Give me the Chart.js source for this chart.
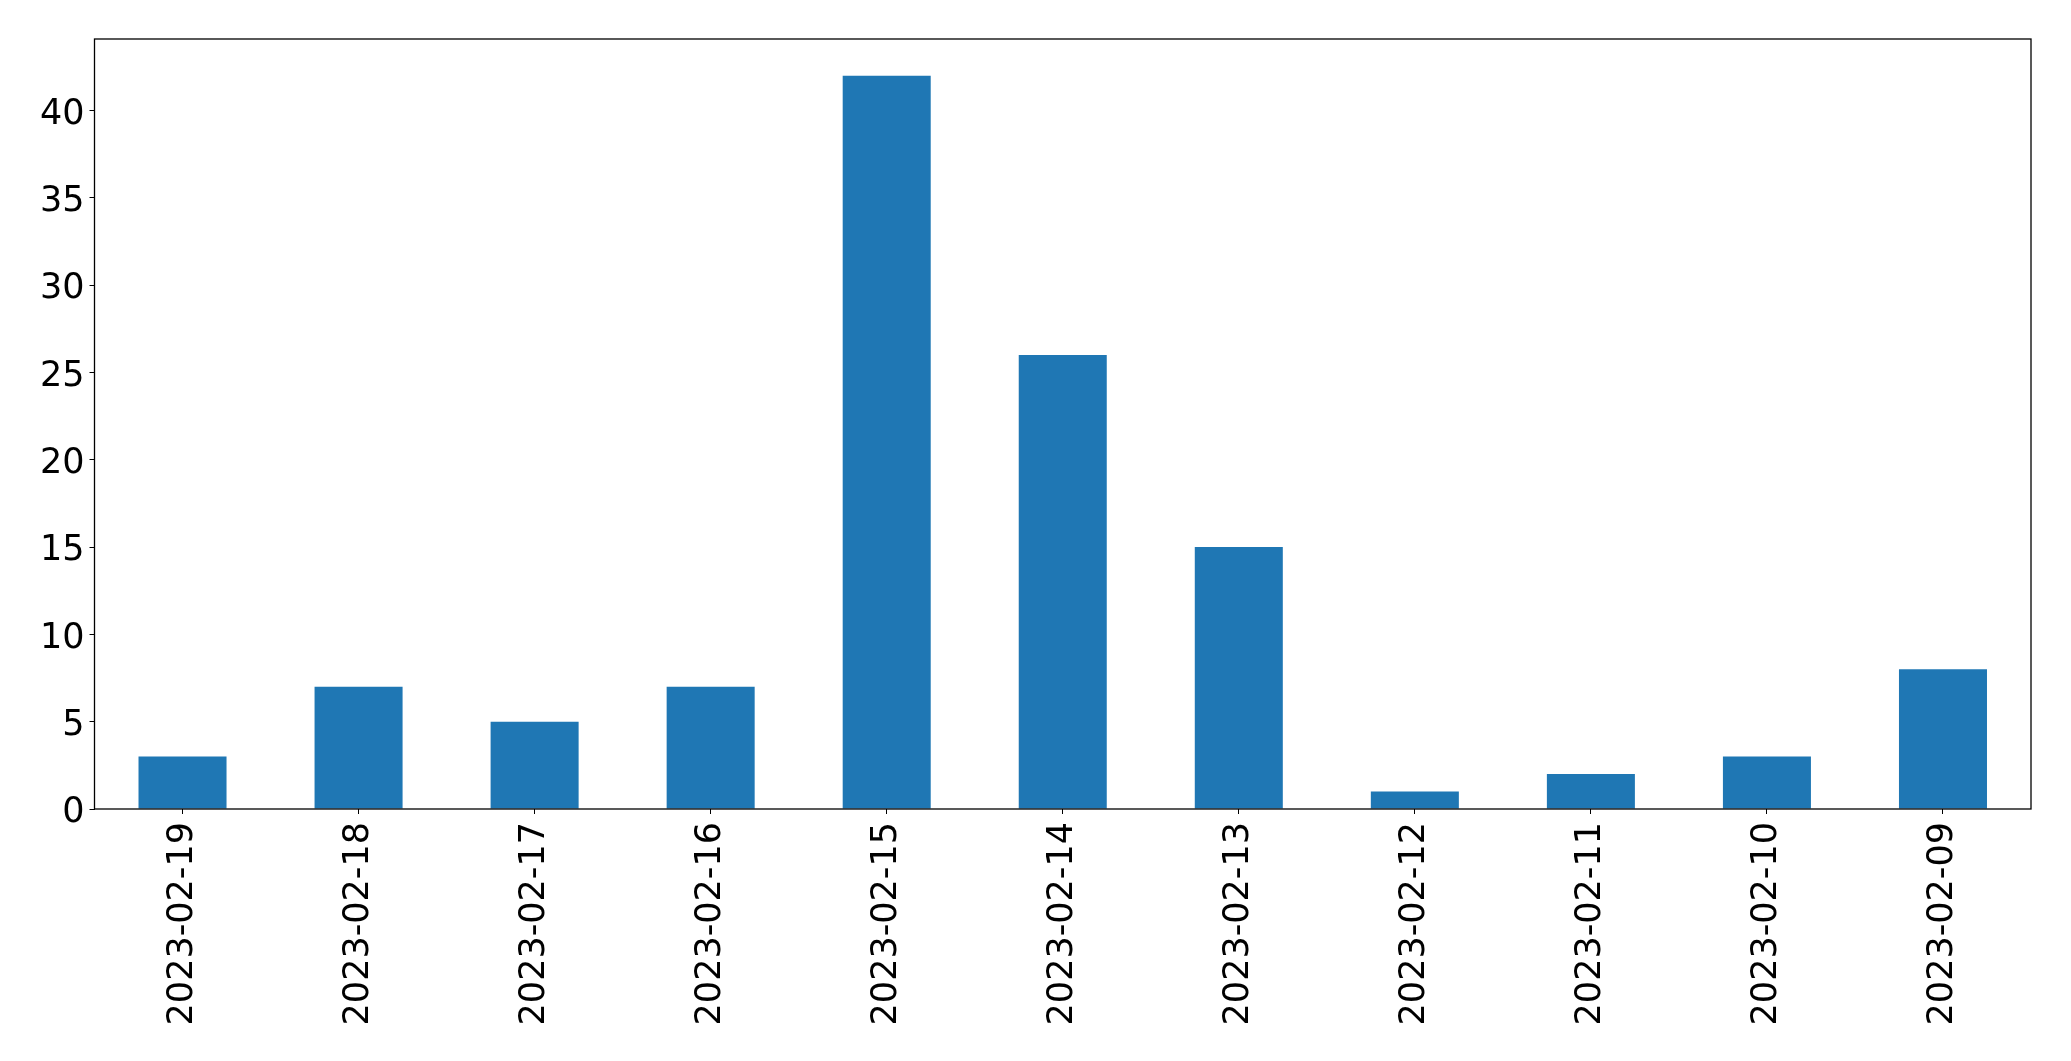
<!DOCTYPE html>
<html>
<head>
<meta charset="utf-8">
<script src="https://cdn.jsdelivr.net/npm/chart.js@4/dist/chart.umd.min.js"></script>
<style>
    html, body { margin: 0; padding: 0; background: #ffffff; }
    #wrap { width: 2071px; height: 1061px; }
</style>
</head>
<body>
<div id="wrap"><canvas id="dayChart" width="2071" height="1061"></canvas></div>
<script>
const dates = [
    "2023-02-19", "2023-02-18", "2023-02-17", "2023-02-16", "2023-02-15", "2023-02-14",
    "2023-02-13", "2023-02-12", "2023-02-11", "2023-02-10", "2023-02-09"
];
const counts = [3, 7, 5, 7, 42, 26, 15, 1, 2, 3, 8];
const yMax = 44.1;

const tickFont = { family: "DejaVu Sans", size: 35 };

// box around the plot area, like the matplotlib frame
const frame = {
    id: "frame",
    afterDraw(chart) {
        const a = chart.chartArea;
        const ctx = chart.ctx;
        ctx.save();
        ctx.strokeStyle = "#000000";
        ctx.lineWidth = 1.3;
        ctx.strokeRect(a.left, a.top, a.right - a.left, a.bottom - a.top);
        ctx.restore();
    }
};

new Chart(document.getElementById("dayChart"), {
    type: "bar",
    data: {
        labels: dates,
        datasets: [{
            data: counts,
            backgroundColor: "#1f77b4",
            categoryPercentage: 1,
            barPercentage: 0.5
        }]
    },
    options: {
        responsive: false,
        animation: false,
        layout: { padding: { top: 39, right: 40, left: 0, bottom: 0 } },
        plugins: {
            legend: { display: false },
            tooltip: { enabled: false }
        },
        scales: {
            x: {
                offset: true,
                grid: {
                    offset: false,
                    drawOnChartArea: false,
                    drawTicks: true,
                    tickLength: 5,
                    color: "#000000"
                },
                border: { display: false },
                ticks: {
                    color: "#000000",
                    font: tickFont,
                    minRotation: 90,
                    maxRotation: 90,
                    padding: 8,
                    autoSkip: false
                },
                afterFit(scale) { scale.height = 252; }
            },
            y: {
                min: 0,
                max: yMax,
                grid: {
                    drawOnChartArea: false,
                    drawTicks: true,
                    tickLength: 5,
                    color: "#000000"
                },
                border: { display: false },
                ticks: {
                    stepSize: 5,
                    includeBounds: false,
                    color: "#000000",
                    font: { family: "DejaVu Sans", size: 35, lineHeight: 0.23 },
                    padding: 5,
                    // empty first line nudges the number down a few px to sit on its tick
                    callback: (value) => ["", String(value)]
                },
                afterFit(scale) { scale.width = 94.5; }
            }
        }
    },
    plugins: [frame]
});
</script>
</body>
</html>
